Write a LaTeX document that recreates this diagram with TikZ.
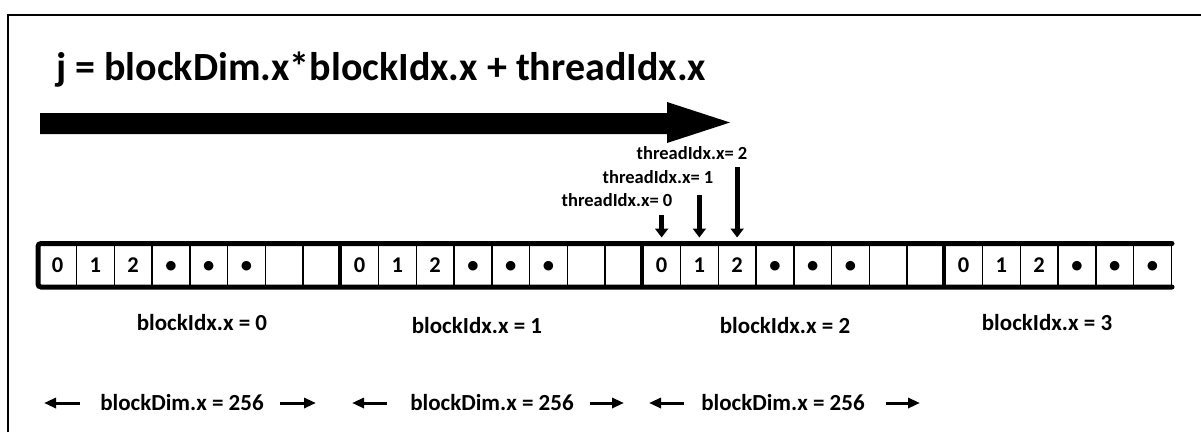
\documentclass[tikz,border=0pt]{standalone}
\usepackage{fontspec}
\setmainfont{Carlito}
\usetikzlibrary{arrows.meta}
\begin{document}
\begin{tikzpicture}[x=1pt,y=-1pt,
  every node/.style={font=\bfseries},
  cell/.style={draw, line width=1.5pt, minimum width=37.75pt, minimum height=42pt, inner sep=0pt, anchor=north west,
    text height=14pt, text depth=0pt, font=\bfseries\fontsize{22.5}{22.5}\selectfont},
  thlabel/.style={font=\bfseries\fontsize{18.5}{18.5}\selectfont, inner sep=0pt},
  blabel/.style={font=\bfseries\fontsize{23}{23}\selectfont, inner sep=0pt},
  tharrow/.style={line width=5pt, -{Triangle[width=13pt,length=9pt]}, shorten >=6pt},
  dimarrow/.style={line width=3pt, -{Triangle[width=10pt,length=12pt]}}]
\useasboundingbox (0,0) rectangle (1201,432);
% frame
\draw[line width=2pt] (8,432) -- (8,15) -- (1201,15);
% title
\node[anchor=base west, inner sep=0pt, font=\bfseries\fontsize{40}{40}\selectfont] (title) at (56,80) {j = blockDim.x*blockIdx.x + threadIdx.x};
% big arrow
\fill (40,113) -- (667,113) -- (667,102) -- (730,122.5) -- (667,143) -- (667,134) -- (40,134) -- cycle;
% cells
\foreach \b in {0,1,2}{
  \foreach \i/\t in {0/0,1/1,2/2,3/\textbullet,4/\textbullet,5/\textbullet,6/{},7/{}}{
    \node[cell] (c-\b-\i) at ({38+\b*302+\i*37.75},243.5) {\t};
  }
}
\foreach \i/\t in {0/0,1/1,2/2,3/\textbullet,4/\textbullet,5/\textbullet}{
  \node[cell] (c-3-\i) at ({38+3*302+\i*37.75},243.5) {\t};
}
\draw[line width=5pt, rounded corners=3pt, line cap=round] (c-3-5.north east) -- (c-0-0.north west) -- (c-0-0.south west) -- (c-3-5.south east);
\foreach \b in {1,2,3}{
  \draw[line width=4.5pt] (c-\b-0.north west) -- (c-\b-0.south west);
}
% thread labels and arrows
\node[thlabel] (l2) at (692,153) {threadIdx.x= 2};
\node[thlabel] (l1) at (658,177) {threadIdx.x= 1};
\node[thlabel] (l0) at (617,200) {threadIdx.x= 0};
\coordinate (a2) at (733,167);
\coordinate (a1) at (697,195);
\coordinate (a0) at (659,215);
\draw[tharrow] (c-2-0.north |- a0) -- (c-2-0.north);
\draw[tharrow] (c-2-1.north |- a1) -- (c-2-1.north);
\draw[tharrow] (c-2-2.north |- a2) -- (c-2-2.north);
% block labels
\node[blabel] (bi0) at (202,323) {blockIdx.x = 0};
\node[blabel] (bi1) at (477,326) {blockIdx.x = 1};
\node[blabel] (bi2) at (785,326) {blockIdx.x = 2};
\node[blabel] (bi3) at (1047,323) {blockIdx.x = 3};
% blockDim labels
\node[blabel] (bd0) at (182,403) {blockDim.x = 256};
\node[blabel] (bd1) at (492,403) {blockDim.x = 256};
\node[blabel] (bd2) at (783,403) {blockDim.x = 256};
\coordinate (ls0) at (80,403); \coordinate (le0) at (44,403);
\coordinate (rs0) at (280,403); \coordinate (re0) at (316,403);
\coordinate (ls1) at (387,403); \coordinate (le1) at (352,403);
\coordinate (rs1) at (590,403); \coordinate (re1) at (624,403);
\coordinate (ls2) at (684,403); \coordinate (le2) at (649,403);
\coordinate (rs2) at (886,403); \coordinate (re2) at (920,403);
\foreach \k in {0,1,2}{
  \draw[dimarrow] (ls\k) -- (le\k);
  \draw[dimarrow] (rs\k) -- (re\k);
}
\end{tikzpicture}
\end{document}
